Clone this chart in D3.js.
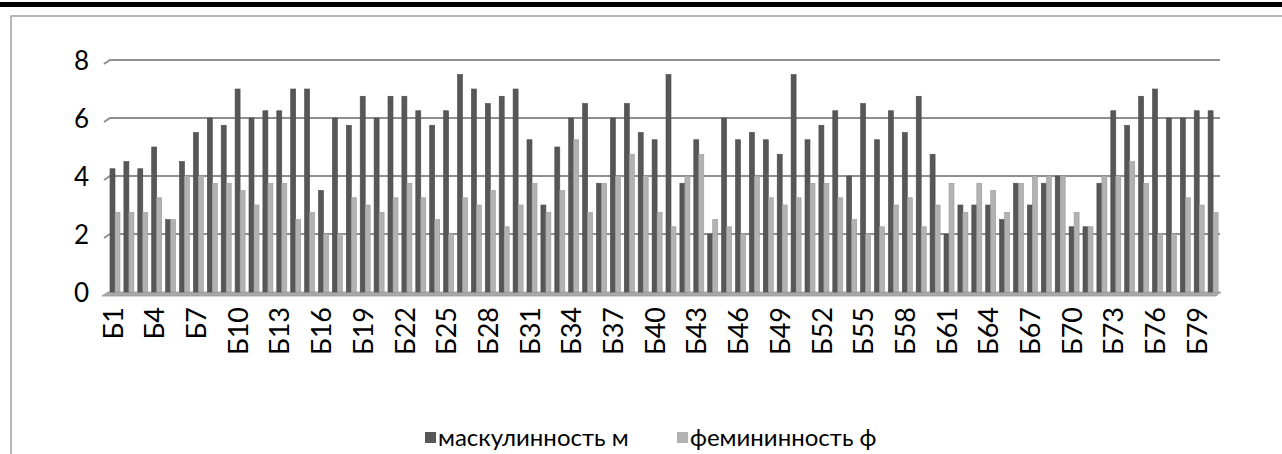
<!DOCTYPE html>
<html><head><meta charset="utf-8">
<script src="https://cdn.jsdelivr.net/npm/d3@7"></script>
<style>body{margin:0;background:#fff;}svg{display:block;}</style>
</head><body>
<svg id="c" width="1282" height="454"></svg>
<script>
const categories = Array.from({length:80},(_,i)=>"Б"+(i+1));
const masc = [4.25,4.5,4.25,5,2.5,4.5,5.5,6,5.75,7,
6,6.25,6.25,7,7,3.5,6,5.75,6.75,6,
6.75,6.75,6.25,5.75,6.25,7.5,7,6.5,6.75,7,
5.25,3,5,6,6.5,3.75,6,6.5,5.5,5.25,
7.5,3.75,5.25,2,6,5.25,5.5,5.25,4.75,7.5,
5.25,5.75,6.25,4,6.5,5.25,6.25,5.5,6.75,4.75,
2,3,3,3,2.5,3.75,3,3.75,4,2.25,
2.25,3.75,6.25,5.75,6.75,7,6,6,6.25,6.25];
const fem = [2.75,2.75,2.75,3.25,2.5,4,4,3.75,3.75,3.5,
3,3.75,3.75,2.5,2.75,2,2,3.25,3,2.75,
3.25,3.75,3.25,2.5,2,3.25,3,3.5,2.25,3,
3.75,2.75,3.5,5.25,2.75,3.75,4,4.75,4,2.75,
2.25,4,4.75,2.5,2.25,2,4,3.25,3,3.25,
3.75,3.75,3.25,2.5,2,2.25,3,3.25,2.25,3,
3.75,2.75,3.75,3.5,2.75,3.75,4,4,4,2.75,
2.25,4,4,4.5,3.75,2,2,3.25,3,2.75];
const yTicks = [0,2,4,6,8];
const legendNames = ["маскулинность м","фемининность ф"];
const colors = ["#575757","#b2b2b2"];

const svg = d3.select("#c");
const font = "Lato, 'Open Sans', 'DejaVu Sans', sans-serif";

// top black rule
svg.append("rect").attr("x",0).attr("y",2).attr("width",1282).attr("height",5).attr("fill","#000");
// chart frame
svg.append("path").attr("d","M11,460 L11,16 L1290,16").attr("fill","none").attr("stroke","#a0a0a0").attr("stroke-width",1.5);

const x = d3.scaleBand().domain(categories).range([106,1218]).padding(0);
const y = d3.scaleLinear().domain([0,8]).range([292,60]);

// gridlines with 3D slant
const g = svg.append("g");
yTicks.forEach(t=>{
  if(t===0) return;
  const yy = y(t);
  g.append("path").attr("d",`M104,${yy+4} L110,${yy} L1220,${yy}`)
   .attr("fill","none").attr("stroke","#8f8f8f").attr("stroke-width",2);
});
// floor
g.append("path").attr("d",`M102,${y(0)+4} L1216,${y(0)+4} L1221,${y(0)} L108,${y(0)} Z`)
  .attr("fill","#a8a8a8").attr("stroke","#999").attr("stroke-width",0.8);

// y labels
const ya = d3.axisLeft(y).tickValues(yTicks).tickSize(0).tickPadding(0);
const yg = svg.append("g").attr("transform","translate(89,0)").call(ya);
yg.select(".domain").remove();
yg.selectAll("text").attr("font-family",font).attr("font-size",26).attr("fill","#000").attr("dy","0.35em");

// bars
const bw = 5;
const bars = svg.append("g");
[masc,fem].forEach((vals,si)=>{
  const c = d3.color(colors[si]);
  bars.selectAll(null).data(vals).enter().append("rect")
    .attr("x",(d,i)=>x(categories[i])+4+si*bw)
    .attr("y",d=>y(d))
    .attr("width",bw)
    .attr("height",d=>y(0)-y(d))
    .attr("fill",colors[si])
    .attr("stroke",c.darker(0.4))
    .attr("stroke-width",0.6);
});

// x labels every 3rd
const xa = d3.axisBottom(x).tickValues(categories.filter((d,i)=>i%3===0)).tickSize(0).tickPadding(0);
const xg = svg.append("g").attr("transform",`translate(0,${y(0)+15})`).call(xa);
xg.select(".domain").remove();
xg.selectAll("text").attr("font-family",font).attr("font-size",27).attr("fill","#000")
  .attr("transform","rotate(-90)").attr("text-anchor","end").attr("x",0).attr("y",0).attr("dy","0.36em");

// legend
const leg = svg.append("g");
const lx = [425,677];
legendNames.forEach((n,i)=>{
  leg.append("rect").attr("x",lx[i]).attr("y",432).attr("width",11).attr("height",11).attr("fill",colors[i]);
  leg.append("text").attr("x",lx[i]+13).attr("y",438).attr("dy","0.35em")
    .attr("font-family",font).attr("font-size",24).attr("fill","#000").text(n);
});
</script>
</body></html>
